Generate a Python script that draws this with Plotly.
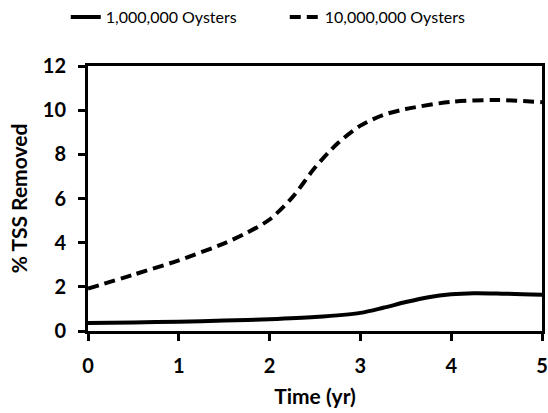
import plotly.graph_objects as go

time_1m = [0, 0.5, 1, 1.5, 2, 2.5, 3, 3.25, 3.5, 3.75, 4, 4.25, 4.5, 5]
oysters_1m = [0.36, 0.39, 0.42, 0.47, 0.53, 0.63, 0.82, 1.05, 1.31, 1.53, 1.66, 1.71, 1.70, 1.64]
time_10m = [0, 0.5, 1, 1.5, 1.75, 2, 2.25, 2.5, 2.75, 3, 3.25, 3.5, 4, 4.5, 5]
oysters_10m = [1.92, 2.55, 3.2, 3.97, 4.45, 5.05, 6.05, 7.4, 8.5, 9.3, 9.78, 10.05, 10.38, 10.46, 10.36]
series_names = ["1,000,000 Oysters", "10,000,000 Oysters"]
y_ticks = [0, 2, 4, 6, 8, 10, 12]
x_ticks = [0, 1, 2, 3, 4, 5]

fig = go.Figure()
fig.add_trace(go.Scatter(x=time_1m, y=oysters_1m, mode="lines", name=series_names[0],
                         line=dict(color="black", width=4, shape="spline", smoothing=0.8)))
fig.add_trace(go.Scatter(x=time_10m, y=oysters_10m, mode="lines", name=series_names[1],
                         line=dict(color="black", width=4, shape="spline", smoothing=0.8, dash="11px,6px")))

axis_common = dict(showline=True, linecolor="black", linewidth=3, mirror=True,
                   ticks="outside", ticklen=7, tickwidth=3, tickcolor="black",
                   showgrid=False, zeroline=False, automargin=False,
                   tickfont=dict(family="Lato", size=20, color="black", weight="bold"))

fig.update_layout(
    width=548, height=413,
    margin=dict(l=88, r=6, t=66, b=82),
    paper_bgcolor="white", plot_bgcolor="white",
    showlegend=True,
    legend=dict(orientation="h", x=0.12, xanchor="left", y=1.0, yanchor="top",
                xref="container", yref="container",
                font=dict(family="Lato", size=16, color="black"),
                itemwidth=30, entrywidth=174, tracegroupgap=0),
    xaxis=dict(range=[0, 5], tickvals=x_ticks, ticklabelstandoff=8,
               title=dict(text="Time (yr)", font=dict(family="Lato", size=21, color="black", weight="bold"), standoff=14),
               **axis_common),
    yaxis=dict(range=[0, 12], tickvals=y_ticks, ticklabelstandoff=8,
               title=dict(text="% TSS Removed", font=dict(family="Lato", size=21, color="black", weight="bold"), standoff=10),
               **axis_common),
)

fig.write_html("out.html")
